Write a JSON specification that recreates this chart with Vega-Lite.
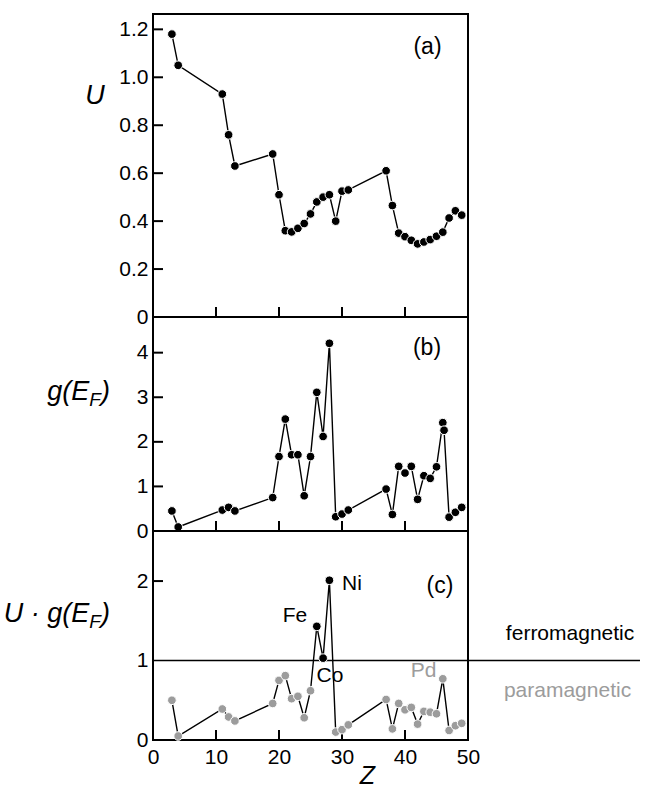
{
  "$schema": "https://vega.github.io/schema/vega-lite/v6.json",
  "padding": {"left": 2, "top": 13, "right": 0, "bottom": 0},
  "background": "white",
  "spacing": 0,
  "bounds": "flush",
  "config": {
    "font": "Liberation Sans",
    "view": {"stroke": "black", "strokeWidth": 2},
    "axis": {"grid": false, "domain": false, "ticks": false, "labelFont": "Liberation Sans", "labelFontSize": 21, "labelColor": "black", "labelPadding": 5},
    "axisX": {"labelFlush": false},
    "text": {"font": "Liberation Sans"}
  },
  "datasets": {
    "U": [{"Z":3,"U":1.18},{"Z":4,"U":1.05},{"Z":11,"U":0.93},{"Z":12,"U":0.76},{"Z":13,"U":0.63},{"Z":19,"U":0.68},{"Z":20,"U":0.51},{"Z":21,"U":0.36},{"Z":22,"U":0.355},{"Z":23,"U":0.37},{"Z":24,"U":0.39},{"Z":25,"U":0.43},{"Z":26,"U":0.48},{"Z":27,"U":0.5},{"Z":28,"U":0.51},{"Z":29,"U":0.4},{"Z":30,"U":0.525},{"Z":31,"U":0.53},{"Z":37,"U":0.61},{"Z":38,"U":0.465},{"Z":39,"U":0.35},{"Z":40,"U":0.335},{"Z":41,"U":0.32},{"Z":42,"U":0.305},{"Z":43,"U":0.313},{"Z":44,"U":0.323},{"Z":45,"U":0.337},{"Z":46,"U":0.354},{"Z":47,"U":0.413},{"Z":48,"U":0.443},{"Z":49,"U":0.425}],
    "g": [{"Z":3,"g":0.45},{"Z":4,"g":0.09},{"Z":11,"g":0.47},{"Z":12,"g":0.53},{"Z":13,"g":0.45},{"Z":19,"g":0.75},{"Z":20,"g":1.67},{"Z":21,"g":2.51},{"Z":22,"g":1.71},{"Z":23,"g":1.71},{"Z":24,"g":0.79},{"Z":25,"g":1.67},{"Z":26,"g":3.11},{"Z":27,"g":2.12},{"Z":28,"g":4.21},{"Z":29,"g":0.32},{"Z":30,"g":0.38},{"Z":31,"g":0.47},{"Z":37,"g":0.94},{"Z":38,"g":0.37},{"Z":39,"g":1.45},{"Z":40,"g":1.3},{"Z":41,"g":1.45},{"Z":42,"g":0.71},{"Z":43,"g":1.24},{"Z":44,"g":1.18},{"Z":45,"g":1.44},{"Z":46,"g":2.43},{"Z":46.2,"g":2.26},{"Z":47,"g":0.31},{"Z":48,"g":0.42},{"Z":49,"g":0.53}],
    "Ug": [{"Z":3,"Ug":0.5,"kind":"para"},{"Z":4,"Ug":0.05,"kind":"para"},{"Z":11,"Ug":0.39,"kind":"para"},{"Z":12,"Ug":0.29,"kind":"para"},{"Z":13,"Ug":0.24,"kind":"para"},{"Z":19,"Ug":0.46,"kind":"para"},{"Z":20,"Ug":0.75,"kind":"para"},{"Z":21,"Ug":0.81,"kind":"para"},{"Z":22,"Ug":0.52,"kind":"para"},{"Z":23,"Ug":0.55,"kind":"para"},{"Z":24,"Ug":0.28,"kind":"para"},{"Z":25,"Ug":0.62,"kind":"para"},{"Z":26,"Ug":1.43,"kind":"ferro"},{"Z":27,"Ug":1.03,"kind":"ferro"},{"Z":28,"Ug":2.01,"kind":"ferro"},{"Z":29,"Ug":0.1,"kind":"para"},{"Z":30,"Ug":0.13,"kind":"para"},{"Z":31,"Ug":0.19,"kind":"para"},{"Z":37,"Ug":0.51,"kind":"para"},{"Z":38,"Ug":0.14,"kind":"para"},{"Z":39,"Ug":0.46,"kind":"para"},{"Z":40,"Ug":0.38,"kind":"para"},{"Z":41,"Ug":0.41,"kind":"para"},{"Z":42,"Ug":0.2,"kind":"para"},{"Z":43,"Ug":0.36,"kind":"para"},{"Z":44,"Ug":0.35,"kind":"para"},{"Z":45,"Ug":0.33,"kind":"para"},{"Z":46,"Ug":0.77,"kind":"para"},{"Z":47,"Ug":0.12,"kind":"para"},{"Z":48,"Ug":0.18,"kind":"para"},{"Z":49,"Ug":0.21,"kind":"para"}],
    "labelsC": [{"Z":22.54,"Ug":1.566,"label":"Fe","kind":"ferro"},{"Z":31.59,"Ug":1.962,"label":"Ni","kind":"ferro"},{"Z":28.1,"Ug":0.8,"label":"Co","kind":"ferro"},{"Z":42.94,"Ug":0.868,"label":"Pd","kind":"para"},{"Z":66.2,"Ug":1.34,"label":"ferromagnetic","kind":"ferro"},{"Z":65.8,"Ug":0.616,"label":"paramagnetic","kind":"para"}],
    "ticksA": [{"Z":10,"Z2":10,"U":0,"U2":0.0417},{"Z":20,"Z2":20,"U":0,"U2":0.0417},{"Z":30,"Z2":30,"U":0,"U2":0.0417},{"Z":40,"Z2":40,"U":0,"U2":0.0417},{"Z":0,"Z2":1.587,"U":0.2,"U2":0.2},{"Z":0,"Z2":1.587,"U":0.4,"U2":0.4},{"Z":0,"Z2":1.587,"U":0.6,"U2":0.6},{"Z":0,"Z2":1.587,"U":0.8,"U2":0.8},{"Z":0,"Z2":1.587,"U":1.0,"U2":1.0},{"Z":0,"Z2":1.587,"U":1.2,"U2":1.2}],
    "ticksB": [{"Z":10,"Z2":10,"g":0,"g2":0.224},{"Z":20,"Z2":20,"g":0,"g2":0.224},{"Z":30,"Z2":30,"g":0,"g2":0.224},{"Z":40,"Z2":40,"g":0,"g2":0.224},{"Z":0,"Z2":1.587,"g":1,"g2":1},{"Z":0,"Z2":1.587,"g":2,"g2":2},{"Z":0,"Z2":1.587,"g":3,"g2":3},{"Z":0,"Z2":1.587,"g":4,"g2":4}],
    "ticksC": [{"Z":10,"Z2":10,"Ug":0,"Ug2":0.126},{"Z":20,"Z2":20,"Ug":0,"Ug2":0.126},{"Z":30,"Z2":30,"Ug":0,"Ug2":0.126},{"Z":40,"Z2":40,"Ug":0,"Ug2":0.126},{"Z":0,"Z2":1.587,"Ug":2,"Ug2":2}]
  },
  "vconcat": [
    {
      "width": 315, "height": 303,
      "layer": [
        {"data": {"name": "ticksA"}, "mark": {"type": "rule", "color": "black", "strokeWidth": 2},
         "encoding": {
           "x": {"field": "Z", "type": "quantitative", "title": null, "scale": {"domain": [0, 50], "nice": false}, "axis": {"values": [10, 20, 30, 40], "labels": false}},
           "x2": {"field": "Z2"},
           "y": {"field": "U", "type": "quantitative", "title": null, "scale": {"domain": [0, 1.264], "nice": false}, "axis": {"values": [0, 0.2, 0.4, 0.6, 0.8, 1.0, 1.2], "labelExpr": "datum.value == 0 ? '0' : format(datum.value, '.1f')"}},
           "y2": {"field": "U2"}
         }},
        {"data": {"name": "U"}, "mark": {"type": "line", "color": "black", "strokeWidth": 1.4},
         "encoding": {"x": {"field": "Z", "type": "quantitative", "title": null}, "y": {"field": "U", "type": "quantitative", "title": null}}},
        {"data": {"name": "U"}, "mark": {"type": "point", "filled": true, "color": "black", "size": 75, "stroke": "white", "strokeWidth": 1, "opacity": 1},
         "encoding": {"x": {"field": "Z", "type": "quantitative", "title": null}, "y": {"field": "U", "type": "quantitative", "title": null}}},
        {"data": {"values": [{"Z": 43.57, "U": 1.125, "label": "(a)"}]}, "mark": {"type": "text", "fontSize": 23, "color": "black", "baseline": "middle"},
         "encoding": {"x": {"field": "Z", "type": "quantitative", "title": null}, "y": {"field": "U", "type": "quantitative", "title": null}, "text": {"field": "label"}}},
        {"data": {"values": [{"Z": -9.21, "U": 0.921, "label": "U"}]}, "mark": {"type": "text", "fontSize": 27, "fontStyle": "italic", "color": "black", "baseline": "middle", "align": "center"},
         "encoding": {"x": {"field": "Z", "type": "quantitative", "title": null}, "y": {"field": "U", "type": "quantitative", "title": null}, "text": {"field": "label"}}}
      ]
    },
    {
      "width": 315, "height": 214,
      "layer": [
        {"data": {"name": "ticksB"}, "mark": {"type": "rule", "color": "black", "strokeWidth": 2},
         "encoding": {
           "x": {"field": "Z", "type": "quantitative", "title": null, "scale": {"domain": [0, 50], "nice": false}, "axis": {"values": [10, 20, 30, 40], "labels": false}},
           "x2": {"field": "Z2"},
           "y": {"field": "g", "type": "quantitative", "title": null, "scale": {"domain": [0, 4.8], "nice": false}, "axis": {"values": [0, 1, 2, 3, 4], "format": "d"}},
           "y2": {"field": "g2"}
         }},
        {"data": {"name": "g"}, "mark": {"type": "line", "color": "black", "strokeWidth": 1.4},
         "encoding": {"x": {"field": "Z", "type": "quantitative", "title": null}, "y": {"field": "g", "type": "quantitative", "title": null}}},
        {"data": {"name": "g"}, "mark": {"type": "point", "filled": true, "color": "black", "size": 75, "stroke": "white", "strokeWidth": 1, "opacity": 1},
         "encoding": {"x": {"field": "Z", "type": "quantitative", "title": null}, "y": {"field": "g", "type": "quantitative", "title": null}}},
        {"data": {"values": [{"Z": 43.49, "g": 4.11, "label": "(b)"}]}, "mark": {"type": "text", "fontSize": 23, "color": "black", "baseline": "middle"},
         "encoding": {"x": {"field": "Z", "type": "quantitative", "title": null}, "y": {"field": "g", "type": "quantitative", "title": null}, "text": {"field": "label"}}},
        {"data": {"values": [{"Z": -6.83, "g": 2.93, "label": ")"}]}, "mark": {"type": "text", "fontSize": 27, "fontStyle": "italic", "color": "black", "baseline": "alphabetic", "align": "right"},
         "encoding": {"x": {"field": "Z", "type": "quantitative", "title": null}, "y": {"field": "g", "type": "quantitative", "title": null}, "text": {"field": "label"}}},
        {"data": {"values": [{"Z": -6.83, "g": 2.93, "label": "F"}]}, "mark": {"type": "text", "fontSize": 19, "fontStyle": "italic", "color": "black", "baseline": "alphabetic", "align": "right", "dx": -9, "dy": 6},
         "encoding": {"x": {"field": "Z", "type": "quantitative", "title": null}, "y": {"field": "g", "type": "quantitative", "title": null}, "text": {"field": "label"}}},
        {"data": {"values": [{"Z": -6.83, "g": 2.93, "label": "g(E"}]}, "mark": {"type": "text", "fontSize": 27, "fontStyle": "italic", "color": "black", "baseline": "alphabetic", "align": "right", "dx": -20.6},
         "encoding": {"x": {"field": "Z", "type": "quantitative", "title": null}, "y": {"field": "g", "type": "quantitative", "title": null}, "text": {"field": "label"}}}
      ]
    },
    {
      "width": 315, "height": 209,
      "layer": [
        {"data": {"name": "ticksC"}, "mark": {"type": "rule", "color": "black", "strokeWidth": 2},
         "encoding": {
           "x": {"field": "Z", "type": "quantitative", "title": "Z", "scale": {"domain": [0, 50], "nice": false}, "axis": {"values": [0, 10, 20, 30, 40, 50], "labelPadding": 6, "titleFontStyle": "italic", "titleFontSize": 25, "titleFontWeight": "normal", "titleFont": "Liberation Sans", "titleColor": "black", "titleX": 214, "titleY": 43, "titleBaseline": "alphabetic"}},
           "x2": {"field": "Z2"},
           "y": {"field": "Ug", "type": "quantitative", "title": null, "scale": {"domain": [0, 2.63], "nice": false}, "axis": {"values": [0, 1, 2], "format": "d"}},
           "y2": {"field": "Ug2"}
         }},
        {"data": {"name": "Ug"}, "mark": {"type": "line", "color": "black", "strokeWidth": 1.4},
         "encoding": {"x": {"field": "Z", "type": "quantitative", "title": "Z"}, "y": {"field": "Ug", "type": "quantitative", "title": null}}},
        {"data": {"values": [{"Z": 0, "Z2": 77.3, "Ug": 1}]}, "mark": {"type": "rule", "color": "black", "strokeWidth": 1.6},
         "encoding": {"x": {"field": "Z", "type": "quantitative", "title": "Z"}, "x2": {"field": "Z2"}, "y": {"field": "Ug", "type": "quantitative", "title": null}}},
        {"data": {"name": "Ug"}, "mark": {"type": "point", "filled": true, "size": 75, "stroke": "white", "strokeWidth": 1, "opacity": 1},
         "encoding": {"x": {"field": "Z", "type": "quantitative", "title": "Z"}, "y": {"field": "Ug", "type": "quantitative", "title": null},
           "color": {"field": "kind", "type": "nominal", "scale": {"domain": ["ferro", "para"], "range": ["#000000", "#9c9c9c"]}, "legend": null}}},
        {"data": {"name": "labelsC"}, "mark": {"type": "text", "fontSize": 21, "baseline": "middle"},
         "encoding": {"x": {"field": "Z", "type": "quantitative", "title": "Z"}, "y": {"field": "Ug", "type": "quantitative", "title": null}, "text": {"field": "label"},
           "color": {"field": "kind", "type": "nominal", "legend": null}}},
        {"data": {"values": [{"Z": 45.56, "Ug": 1.94, "label": "(c)"}]}, "mark": {"type": "text", "fontSize": 23, "color": "black", "baseline": "middle"},
         "encoding": {"x": {"field": "Z", "type": "quantitative", "title": "Z"}, "y": {"field": "Ug", "type": "quantitative", "title": null}, "text": {"field": "label"}}},
        {"data": {"values": [{"Z": -6.83, "Ug": 1.48, "label": ")"}]}, "mark": {"type": "text", "fontSize": 27, "fontStyle": "italic", "color": "black", "baseline": "alphabetic", "align": "right"},
         "encoding": {"x": {"field": "Z", "type": "quantitative", "title": "Z"}, "y": {"field": "Ug", "type": "quantitative", "title": null}, "text": {"field": "label"}}},
        {"data": {"values": [{"Z": -6.83, "Ug": 1.48, "label": "F"}]}, "mark": {"type": "text", "fontSize": 19, "fontStyle": "italic", "color": "black", "baseline": "alphabetic", "align": "right", "dx": -9, "dy": 6},
         "encoding": {"x": {"field": "Z", "type": "quantitative", "title": "Z"}, "y": {"field": "Ug", "type": "quantitative", "title": null}, "text": {"field": "label"}}},
        {"data": {"values": [{"Z": -6.83, "Ug": 1.48, "label": "U · g(E"}]}, "mark": {"type": "text", "fontSize": 27, "fontStyle": "italic", "color": "black", "baseline": "alphabetic", "align": "right", "dx": -20.6},
         "encoding": {"x": {"field": "Z", "type": "quantitative", "title": "Z"}, "y": {"field": "Ug", "type": "quantitative", "title": null}, "text": {"field": "label"}}}
      ]
    }
  ]
}
